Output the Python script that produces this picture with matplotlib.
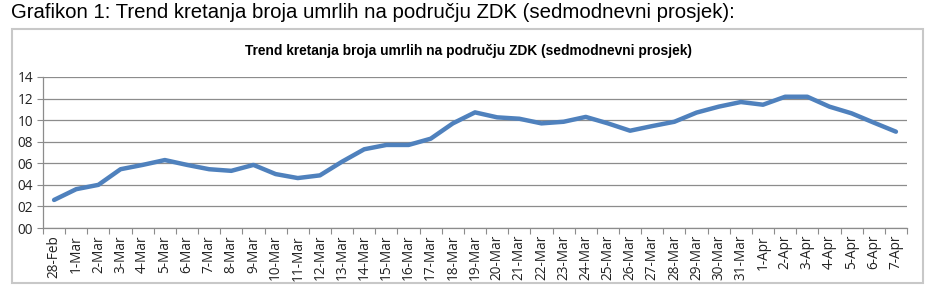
import matplotlib.pyplot as plt
from matplotlib.patches import Rectangle
from matplotlib.ticker import FixedLocator, FuncFormatter

# Data
days = (["28-Feb"] + [f"{d}-Mar" for d in range(1, 32)]
        + [f"{d}-Apr" for d in range(1, 8)])
deaths_avg = [2.6, 3.6, 4.0, 5.45, 5.85, 6.3, 5.85, 5.45, 5.3, 5.85,
              5.0, 4.63, 4.88, 6.15, 7.3, 7.7, 7.7, 8.28, 9.7, 10.72,
              10.26, 10.13, 9.7, 9.85, 10.3, 9.7, 9.02, 9.45, 9.85, 10.7,
              11.25, 11.68, 11.43, 12.17, 12.17, 11.25, 10.63, 9.77, 8.93]
y_ticks = [0, 2, 4, 6, 8, 10, 12, 14]

W, H = 938, 295
fig = plt.figure(figsize=(W / 100, H / 100), dpi=100)
fig.patch.set_facecolor("white")

# outer caption
fig.text(11 / W, 1 - 13 / H, "Grafikon 1: Trend kretanja broja umrlih na području ZDK (sedmodnevni prosjek):",
         ha="left", va="center", fontsize=14.7, family="Liberation Sans", color="black")

# chart frame
fig.patches.append(Rectangle((12 / W, 1 - 283 / H), (923 - 12) / W, (283 - 29) / H,
                             transform=fig.transFigure, fill=False,
                             edgecolor="#c8c8c8", linewidth=1.5))

fig.text(468 / W, 1 - 51 / H, "Trend kretanja broja umrlih na području ZDK (sedmodnevni prosjek)",
         ha="center", va="center", fontsize=9.9, fontweight="bold",
         family=["Liberation Sans Narrow", "Liberation Sans"], color="black")

ax = fig.add_axes([43 / W, 1 - 228 / H, (907 - 43) / W, (228 - 77) / H])
x = list(range(len(days)))
ax.plot(x, deaths_avg, color="#4f81bd", linewidth=3.2, solid_capstyle="round",
        solid_joinstyle="round", zorder=3)

ax.set_xlim(-0.5, len(days) - 0.5)
ax.set_ylim(0, 14)
ax.set_yticks(y_ticks)
ax.yaxis.set_major_formatter(FuncFormatter(lambda v, p: f"{int(v):02d}"))
ax.yaxis.grid(True, color="#8c8c8c", linewidth=0.9)
ax.set_axisbelow(True)

ax.set_xticks(x)
ax.set_xticklabels(days, rotation=90, fontsize=9.8, family="Open Sans", color="#222222")
ax.xaxis.set_minor_locator(FixedLocator([i - 0.5 for i in range(len(days) + 1)]))
ax.tick_params(axis="x", which="major", length=0, pad=5)
ax.tick_params(axis="x", which="minor", length=4, color="#8c8c8c", width=0.8)
ax.tick_params(axis="y", length=4, color="#8c8c8c", width=0.8, labelsize=9.8,
               labelcolor="#222222", pad=3)
for lab in ax.get_yticklabels():
    lab.set_family("Open Sans")

for s in ["top", "right"]:
    ax.spines[s].set_visible(False)
ax.spines["left"].set_color("#8c8c8c")
ax.spines["bottom"].set_color("#8c8c8c")
ax.spines["left"].set_linewidth(0.9)
ax.spines["bottom"].set_linewidth(0.9)

fig.savefig("out.png", dpi=100, facecolor="white")
